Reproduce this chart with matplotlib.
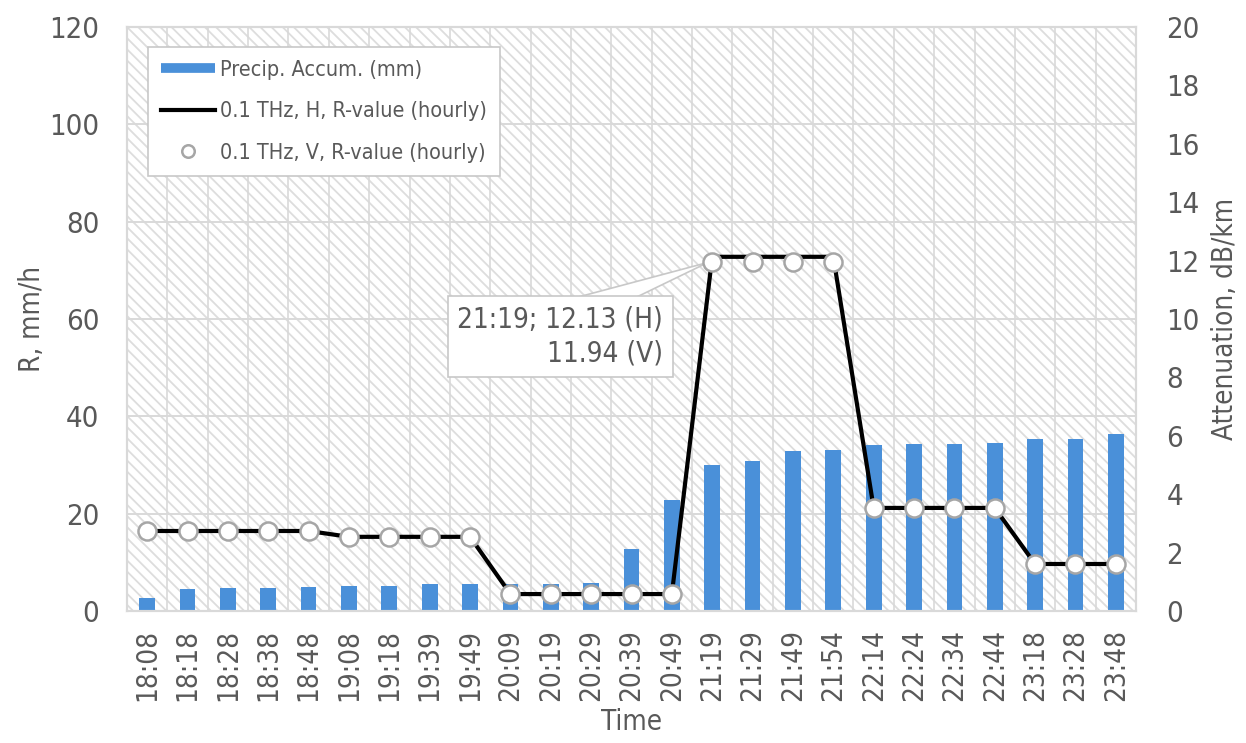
import matplotlib
matplotlib.use("Agg")
import matplotlib.pyplot as plt
from matplotlib.lines import Line2D
from matplotlib.patches import Rectangle, Polygon
import matplotlib.transforms as mtransforms
import numpy as np

times = ['18:08', '18:18', '18:28', '18:38', '18:48', '19:08', '19:18', '19:39', '19:49',
         '20:09', '20:19', '20:29', '20:39', '20:49', '21:19', '21:29', '21:49', '21:54',
         '22:14', '22:24', '22:34', '22:44', '23:18', '23:28', '23:48']
precip = [2.7, 4.5, 4.7, 4.7, 5.0, 5.1, 5.1, 5.5, 5.5, 5.5, 5.6, 5.8, 12.8, 22.8,
          30.0, 30.9, 32.8, 33.1, 34.1, 34.3, 34.3, 34.6, 35.4, 35.4, 36.4]
att_h = [2.74, 2.74, 2.74, 2.74, 2.74, 2.54, 2.54, 2.54, 2.54, 0.58, 0.58, 0.58, 0.58, 0.58,
         12.13, 12.13, 12.13, 12.13, 3.53, 3.53, 3.53, 3.53, 1.61, 1.61, 1.61]
att_v = [2.74, 2.74, 2.74, 2.74, 2.74, 2.54, 2.54, 2.54, 2.54, 0.58, 0.58, 0.58, 0.58, 0.58,
         11.94, 11.94, 11.94, 11.94, 3.53, 3.53, 3.53, 3.53, 1.61, 1.61, 1.61]
left_ticks = [0, 20, 40, 60, 80, 100, 120]
right_ticks = [0, 2, 4, 6, 8, 10, 12, 14, 16, 18, 20]
labels = ['Precip. Accum. (mm)', '0.1 THz, H, R-value (hourly)', '0.1 THz, V, R-value (hourly)']
note = '21:19; 12.13 (H)\n11.94 (V)'
note_idx = 14

TXT = '#595959'
GRID = '#d9d9d9'
BLUE = '#4a90d9'
HATCH = '#dddddd'
CALLOUT = '#c8c8c8'

plt.rcParams['font.family'] = ['DejaVu Sans']
plt.rcParams['font.stretch'] = 'condensed'
plt.rcParams['hatch.linewidth'] = 1.3
plt.rcParams['hatch.color'] = HATCH

fig = plt.figure(figsize=(12.46, 7.43), dpi=100)
ax = fig.add_axes([127 / 1246, 1 - 611 / 743, (1136 - 127) / 1246, (611 - 27) / 743])
ax2 = ax.twinx()

x = np.arange(len(times))
ax.set_xlim(-0.5, len(times) - 0.5)
ax.set_ylim(0, 120)
ax2.set_ylim(0, 20)

# hatched background
ax.add_patch(Rectangle((0, 0), 1, 1, transform=ax.transAxes, fill=False,
                       hatch='\\\\\\', edgecolor=HATCH, lw=0, zorder=0))
# grid
for yv in left_ticks[1:-1]:
    ax.axhline(yv, color=GRID, lw=1.4, zorder=0.5)
for xb in np.arange(0.5, len(times) - 0.5, 1):
    ax.axvline(xb, color=GRID, lw=1.2, zorder=0.5)

ax.bar(x, precip, width=0.39, color=BLUE, zorder=2)

ax2.plot(x, att_h, color='black', lw=3.0, zorder=3)
ax2.plot(x, att_v, ls='none', marker='o', ms=13, mfc='white', mec='#a6a6a6', mew=1.8, zorder=6)

for a in (ax, ax2):
    for s in a.spines.values():
        s.set_color(GRID)
        s.set_linewidth(1.5)
    a.tick_params(length=0, colors=TXT, labelsize=21)

ax.set_yticks(left_ticks)
ax.tick_params(axis='y', pad=20)
ax2.set_yticks(right_ticks)
ax2.tick_params(axis='y', pad=22)
ax.set_xticks(x)
ax.set_xticklabels(times, rotation=90)
ax.tick_params(axis='x', pad=13, labelsize=20)

ax.set_ylabel('R, mm/h', color=TXT, fontsize=20, labelpad=2)
ax2.set_ylabel('Attenuation, dB/km', color=TXT, fontsize=20, labelpad=8)
ax.set_xlabel('Time', color=TXT, fontsize=20, labelpad=5)

# annotation callout box
txt = ax2.text(12.78, 9.4, note, ha='right', va='center', multialignment='right',
               color=TXT, fontsize=20, linespacing=1.25, zorder=5.5,
               bbox=dict(boxstyle='square,pad=0.35', fc='white', ec=CALLOUT, lw=1.2))

handles = [Line2D([], [], color=BLUE, lw=7, solid_capstyle='butt'),
           Line2D([], [], color='black', lw=3),
           Line2D([], [], ls='none', marker='o', ms=9, mfc='white', mec='#a6a6a6', mew=1.8)]
leg = ax2.legend(handles, labels, loc='upper left', bbox_to_anchor=(148 / 1246, 1 - 47 / 743),
                 bbox_transform=fig.transFigure, borderaxespad=0, fontsize=15.5,
                 handlelength=2.5, handletextpad=0.25, labelspacing=1.0, borderpad=0.6,
                 fancybox=False, framealpha=1, edgecolor=CALLOUT, labelcolor=TXT)
leg.get_frame().set_linewidth(1.2)
leg.set_zorder(10)

# wedge pointer from the box to the annotated point
fig.canvas.draw()
renderer = fig.canvas.get_renderer()
ext = txt.get_bbox_patch().get_window_extent(renderer)
tip = ax2.transData.transform((x[note_idx], att_v[note_idx]))
base_y = ext.y1 - 1
pts = [(ext.x0 + 0.58 * ext.width, base_y),
       (tip[0] - 4, tip[1]),
       (ext.x0 + 0.84 * ext.width, base_y)]
wedge = Polygon(pts, closed=False, transform=mtransforms.IdentityTransform(),
                fc='white', ec=CALLOUT, lw=1.2, zorder=5.4)
ax2.add_artist(wedge)
wedge.set_clip_on(False)

fig.savefig('out.png', dpi=100, facecolor='white')
